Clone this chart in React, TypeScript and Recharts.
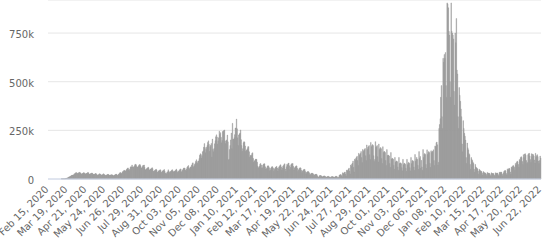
import React from 'react';
import { BarChart, Bar, XAxis, YAxis, CartesianGrid } from 'recharts';

const START_UTC = Date.UTC(2020, 1, 15);
const MONTHS = ['Jan', 'Feb', 'Mar', 'Apr', 'May', 'Jun', 'Jul', 'Aug', 'Sep', 'Oct', 'Nov', 'Dec'];
const Y_TICKS = [0, 250, 500, 750];

// Daily new cases (thousands), Feb 15, 2020 .. Jun 22, 2022, rows of 7 days (Sat..Fri)
const CASES_K: number[] = [
  0, 0, 0, 0, 0, 0, 0,
  0, 0, 0, 0, 0, 0, 0,
  0, 0, 0, 0, 0, 0, 0,
  0, 0, 1, 1, 1, 1, 1,
  1, 1, 2, 3, 4, 5, 6,
  9, 10, 11, 13, 15, 17, 19,
  20, 19, 21, 25, 27, 29, 32,
  33, 27, 29, 30, 32, 33, 35,
  31, 27, 25, 27, 29, 31, 33,
  30, 27, 26, 28, 29, 31, 34,
  32, 26, 24, 25, 28, 29, 31,
  29, 25, 23, 24, 25, 28, 28,
  25, 21, 19, 22, 22, 27, 26,
  24, 19, 21, 22, 22, 27, 24,
  22, 19, 18, 19, 21, 23, 24,
  23, 20, 18, 20, 21, 22, 22,
  20, 17, 17, 19, 21, 23, 25,
  24, 19, 19, 23, 25, 29, 32,
  33, 27, 30, 35, 38, 40, 45,
  44, 40, 42, 47, 51, 55, 57,
  48, 43, 50, 60, 63, 62, 72,
  62, 59, 63, 66, 73, 76, 73,
  64, 61, 62, 65, 71, 74, 73,
  67, 56, 58, 63, 69, 70, 72,
  60, 48, 47, 51, 55, 57, 61,
  58, 46, 47, 51, 52, 55, 58,
  53, 40, 39, 43, 45, 48, 50,
  46, 35, 36, 41, 43, 45, 48,
  44, 33, 36, 41, 43, 45, 49,
  40, 31, 26, 28, 35, 37, 47,
  41, 34, 34, 39, 40, 45, 48,
  42, 36, 40, 39, 42, 45, 51,
  44, 34, 37, 40, 43, 47, 52,
  50, 36, 40, 46, 51, 56, 57,
  54, 45, 43, 52, 60, 64, 69,
  56, 50, 58, 62, 63, 72, 80,
  83, 61, 67, 75, 80, 90, 99,
  86, 81, 92, 93, 105, 122, 130,
  126, 108, 120, 140, 145, 163, 182,
  162, 135, 152, 163, 172, 188, 196,
  178, 142, 166, 174, 183, 112, 205,
  152, 140, 157, 181, 197, 217, 227,
  216, 180, 196, 212, 246, 229, 238,
  214, 186, 198, 244, 246, 249, 252,
  196, 182, 196, 201, 226, 191, 98,
  102, 152, 172, 201, 236, 156, 286,
  203, 205, 212, 228, 262, 262, 308,
  258, 212, 172, 226, 231, 236, 252,
  202, 172, 142, 156, 186, 192, 190,
  170, 142, 146, 150, 156, 166, 166,
  140, 112, 122, 118, 122, 131, 135,
  106, 86, 91, 95, 101, 102, 101,
  86, 66, 56, 61, 66, 76, 80,
  72, 56, 58, 71, 76, 78, 78,
  63, 51, 53, 58, 67, 68, 66,
  58, 42, 47, 56, 60, 64, 62,
  55, 39, 49, 55, 60, 62, 65,
  56, 41, 53, 62, 66, 71, 73,
  62, 46, 56, 66, 70, 75, 78,
  51, 39, 63, 76, 72, 80, 82,
  68, 48, 61, 73, 78, 78, 80,
  65, 46, 56, 61, 64, 68, 66,
  55, 39, 46, 52, 57, 58, 56,
  45, 32, 40, 44, 48, 50, 48,
  38, 26, 33, 36, 38, 38, 36,
  30, 20, 25, 28, 30, 30, 28,
  25, 17, 21, 23, 24, 25, 22,
  16, 10, 9, 14, 18, 18, 18,
  15, 10, 12, 14, 15, 16, 15,
  12, 8, 10, 12, 13, 14, 12,
  10, 7, 9, 11, 12, 13, 12,
  10, 6, 10, 12, 14, 14, 12,
  8, 5, 10, 19, 21, 23, 22,
  17, 11, 32, 26, 31, 34, 36,
  26, 16, 46, 41, 46, 51, 56,
  41, 26, 72, 66, 76, 82, 92,
  61, 36, 102, 96, 106, 112, 117,
  95, 70, 132, 121, 127, 132, 141,
  110, 85, 152, 141, 147, 152, 157,
  120, 95, 175, 152, 162, 167, 172,
  125, 100, 188, 166, 172, 177, 172,
  120, 90, 100, 192, 162, 167, 172,
  115, 88, 180, 151, 157, 162, 156,
  105, 80, 166, 136, 141, 141, 136,
  95, 70, 151, 121, 121, 123, 118,
  80, 60, 136, 101, 106, 106, 101,
  70, 50, 111, 86, 91, 93, 89,
  62, 45, 111, 79, 81, 83, 79,
  58, 42, 101, 73, 79, 81, 76,
  55, 40, 101, 73, 81, 86, 81,
  58, 42, 111, 79, 91, 96, 91,
  62, 45, 126, 91, 101, 111, 101,
  70, 50, 141, 106, 116, 56, 96,
  62, 45, 151, 111, 126, 131, 126,
  75, 55, 150, 126, 136, 141, 136,
  80, 60, 145, 136, 140, 142, 150,
  95, 70, 170, 166, 186, 190, 176,
  71, 86, 260, 280, 310, 420, 480,
  320, 260, 620, 600, 640, 620, 650,
  480, 420, 905, 900, 880, 760, 740,
  500, 420, 905, 760, 750, 740, 720,
  450, 380, 750, 700, 825, 560, 540,
  320, 260, 470, 430, 400, 360, 320,
  180, 140, 300, 260, 235, 220, 200,
  110, 80, 185, 160, 150, 130, 125,
  75, 50, 110, 100, 95, 85, 80,
  50, 35, 75, 62, 58, 55, 52,
  40, 25, 50, 45, 42, 40, 38,
  30, 20, 38, 34, 32, 31, 30,
  25, 17, 34, 30, 30, 30, 28,
  22, 15, 32, 28, 28, 29, 27,
  20, 14, 32, 28, 30, 31, 29,
  22, 15, 35, 32, 35, 36, 34,
  24, 16, 30, 38, 42, 44, 42,
  28, 20, 52, 46, 52, 55, 53,
  36, 25, 62, 58, 65, 70, 66,
  60, 45, 80, 72, 85, 92, 88,
  75, 60, 100, 95, 110, 115, 110,
  90, 75, 125, 110, 128, 130, 122,
  95, 80, 85, 125, 130, 132, 118,
  100, 85, 130, 115, 128, 125, 118,
  98, 82, 132, 112, 120, 125, 115,
  92, 80, 95, 118, 108,
];

const fmtDate = (i: number) => {
  const d = new Date(START_UTC + i * 86400000);
  return `${MONTHS[d.getUTCMonth()]} ${String(d.getUTCDate()).padStart(2, '0')}, ${d.getUTCFullYear()}`;
};

const data = CASES_K.map((v, i) => ({ date: fmtDate(i), cases: v }));

const FONT = 'DejaVu Sans, sans-serif';

const XTick = (props: any) => {
  const { x, y, payload } = props;
  return (
    <g transform={`translate(${x + 1},${y + 3})`}>
      <text x={0} y={0} textAnchor="end" transform="rotate(-45)" fill="#666" fontSize={10} fontFamily={FONT}>
        {payload.value}
      </text>
    </g>
  );
};

const YTick = (props: any) => {
  const { y, payload } = props;
  const v = payload.value;
  return (
    <text x={34} y={y} dy={5} textAnchor="end" fill="#666" fontSize={10} fontFamily={FONT}>
      {v === 0 ? '0' : `${v}k`}
    </text>
  );
};

export default function App() {
  return (
    <div style={{ position: 'absolute', left: 0, top: 0, width: 550, height: 248, background: '#fff' }}>
      <BarChart
        width={550}
        height={248}
        data={data}
        margin={{ top: 0, right: 9, bottom: 0, left: 0 }}
        barCategoryGap={0}
      >
        <CartesianGrid horizontal vertical={false} stroke="#e6e6e6" />
        <XAxis
          dataKey="date"
          interval={32}
          height={69}
          tickLine={false}
          axisLine={{ stroke: '#ccd6eb' }}
          tick={<XTick />}
        />
        <YAxis
          width={48}
          domain={[0, 920]}
          ticks={Y_TICKS}
          tickLine={false}
          axisLine={false}
          tick={<YTick />}
        />
        <Bar dataKey="cases" fill="#999999" stroke="#999999" strokeWidth={0.4} isAnimationActive={false} />
      </BarChart>
    </div>
  );
}
